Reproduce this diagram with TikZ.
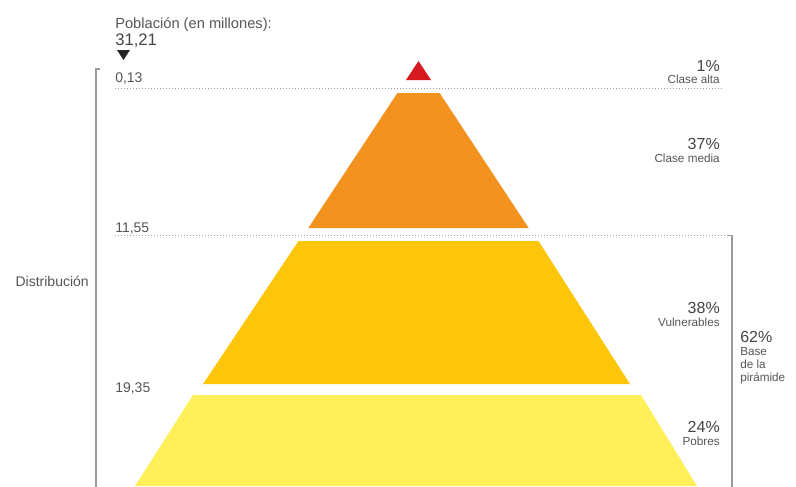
\documentclass[tikz,border=0pt]{standalone}
\usepackage{fontspec}
\setmainfont{Liberation Sans}
\definecolor{txt}{HTML}{555555}
\definecolor{pcttxt}{HTML}{444444}
\definecolor{dotgray}{HTML}{A0A0A0}
\definecolor{brgray}{HTML}{9A9A9A}
\definecolor{redc}{HTML}{D71920}
\definecolor{orangec}{HTML}{F3921E}
\definecolor{goldc}{HTML}{FDC60B}
\definecolor{lightc}{HTML}{FFF05A}
\begin{document}
\begin{tikzpicture}[x=0.75pt,y=-0.75pt,
  lbl/.style={inner sep=0pt, text=txt, font=\fontsize{10.5}{12}\selectfont},
  pct/.style={inner sep=0pt, anchor=base east, text=pcttxt, font=\fontsize{12}{14}\selectfont},
  cat/.style={inner sep=0pt, anchor=base east, text=txt, font=\fontsize{8.8}{10}\selectfont},
  guide/.style={draw=dotgray, line width=1pt, dash pattern=on 0.9pt off 1.35pt},
  bracket/.style={draw=brgray, line width=1pt}]
\useasboundingbox (0,0) rectangle (796,486);
\clip (0,0) rectangle (796,486);

% pyramid layers
\fill[redc] (418.5,61) -- (431,80) -- (406,80) -- cycle;
\fill[orangec] (397.4,93) -- (439.6,93) -- (528.7,228) -- (308.3,228) -- cycle;
\fill[goldc] (298.5,241) -- (538.5,241) -- (630,384) -- (203,384) -- cycle;
\fill[lightc] (193,395) -- (641,395) -- (697,486) -- (135,486) -- cycle;

% guide lines
\coordinate (g1a) at (115,88.5);
\coordinate (g1b) at (722,88.5);
\coordinate (g2a) at (115,235.5);
\coordinate (g2b) at (728,235.5);
\draw[guide] (g1a) -- (g1b);
\draw[guide] (g2a) -- (g2b);

% brackets
\coordinate (lbt) at (100,69);
\coordinate (lbc) at (96,69);
\coordinate (lbb) at (96,490);
\draw[bracket] (lbt) -- (lbc) -- (lbb);
\coordinate (rbt) at (728,235.5);
\coordinate (rbc) at (732,235.5);
\coordinate (rbb) at (732,490);
\draw[bracket] (rbt) -- (rbc) -- (rbb);

% header
\node[lbl, anchor=base west, font=\fontsize{11}{13}\selectfont] (pob) at (115,28) {Población (en millones):};
\node[lbl, anchor=base west, text=pcttxt, font=\fontsize{12.5}{14}\selectfont] (tot) at (115,45) {31,21};
\fill[black!85] (117,50) -- (130,50) -- (123.5,60) -- cycle;

% left values
\node[lbl, anchor=base west] (v1) at (115,82) {0,13};
\node[lbl, anchor=base west] (v2) at (115,232) {11,55};
\node[lbl, anchor=base west] (v3) at (115,392) {19,35};
\node[lbl, anchor=base east] (dist) at (89,286) {Distribución};

% right labels
\node[pct] (p1) at (720,71) {1\%};
\node[cat] (c1) at (720,83) {Clase alta};
\node[pct] (p2) at (720,149) {37\%};
\node[cat] (c2) at (720,162) {Clase media};
\node[pct] (p3) at (720,313) {38\%};
\node[cat] (c3) at (720,326) {Vulnerables};
\node[pct] (p4) at (720,432) {24\%};
\node[cat] (c4) at (720,445) {Pobres};

\node[pct, anchor=base west] (p5) at (740,342) {62\%};
\node[cat, anchor=base west] (c5a) at (740,355) {Base};
\node[cat, anchor=base west] (c5b) at (740,368) {de la};
\node[cat, anchor=base west] (c5c) at (740,381) {pirámide};
\end{tikzpicture}
\end{document}
